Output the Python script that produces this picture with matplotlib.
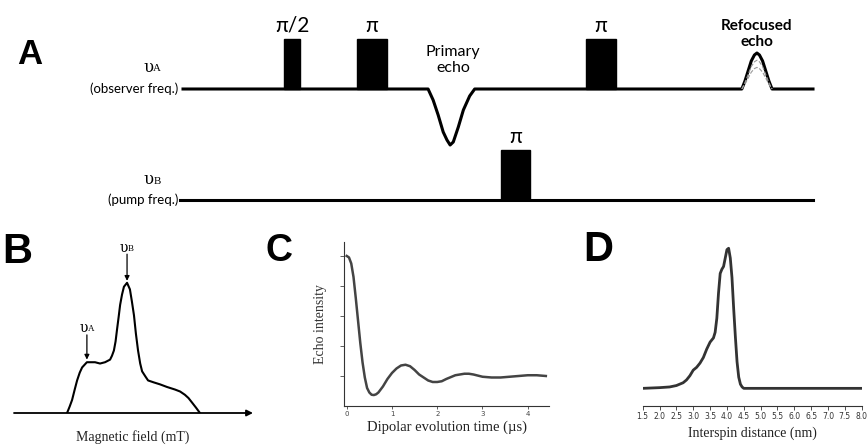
import numpy as np
import matplotlib.pyplot as plt
from matplotlib.patches import Rectangle

W, H = 868, 446
SANS = ['Lato', 'DejaVu Sans']
SERIF = ['Liberation Serif', 'DejaVu Serif']

# A: DEER pulse sequence (time in arbitrary units along the observer line)
obs_pulse_start = [16.0, 27.6, 64.0]
obs_pulse_width = [2.6, 4.8, 4.7]
obs_pulse_label = ['π/2', 'π', 'π']
pump_pulse_start = [50.5]
pump_pulse_width = [4.6]
pump_pulse_label = ['π']
pulse_height = 50
line_end = 100
pump_level = -111

primary_echo_t = [38.9, 39.7, 40.5, 41.3, 41.9, 42.4, 42.9, 43.7, 44.5, 45.5, 46.3]
primary_echo_y = [0, -11, -26, -43, -51, -56, -53, -38, -21, -7, 0]
refocused_t = [88.7, 89.2, 89.7, 90.2, 90.7, 91.1, 91.5, 92.0, 92.5, 93.0, 93.5]
refocused_y = [0, 8, 18, 28, 34, 36, 34, 28, 18, 8, 0]
refocused_faint = [0.8, 0.6]

# B: field-swept spectrum
field = [22.2, 23.3, 24.3, 25.4, 26.4, 27.5, 28.5, 30.5, 33.9, 36.0, 38.1, 40.2,
         41.0, 41.8, 42.5, 43.1, 43.8, 44.4, 45.2, 46.0, 47.3, 48.5, 49.3, 50.2,
         51.0, 51.9, 52.8, 53.6, 55.0, 56.1, 58.5, 61.1, 64.0, 67.4, 69.5, 71.5,
         73.0, 74.5, 76.2, 77.8]
spectrum = [0.0, 0.05, 0.10, 0.18, 0.25, 0.31, 0.35, 0.39, 0.39, 0.38, 0.39, 0.41,
            0.44, 0.48, 0.55, 0.64, 0.74, 0.83, 0.91, 0.97, 1.0, 0.95, 0.86, 0.75,
            0.61, 0.48, 0.38, 0.32, 0.28, 0.25, 0.235, 0.22, 0.20, 0.18, 0.165, 0.14,
            0.115, 0.08, 0.04, 0.0]

# C: DEER time trace
dip_time = [0, 0.05, 0.1, 0.15, 0.2, 0.25, 0.3, 0.35, 0.4, 0.45, 0.5, 0.55, 0.6,
            0.65, 0.7, 0.8, 0.9, 1.0, 1.1, 1.2, 1.3, 1.4, 1.5, 1.6, 1.7, 1.8, 1.9,
            2.0, 2.1, 2.2, 2.4, 2.6, 2.7, 2.8, 3.0, 3.2, 3.4, 3.6, 3.8, 4.0, 4.2, 4.4]
echo = [1.0, 0.99, 0.95, 0.86, 0.72, 0.57, 0.42, 0.29, 0.19, 0.12, 0.09, 0.075,
        0.073, 0.078, 0.09, 0.13, 0.18, 0.22, 0.25, 0.27, 0.275, 0.265, 0.24, 0.21,
        0.19, 0.17, 0.16, 0.16, 0.165, 0.18, 0.205, 0.215, 0.215, 0.21, 0.195, 0.19,
        0.19, 0.195, 0.2, 0.205, 0.205, 0.2]

# D: distance distribution
distance = [1.5, 2.0, 2.3, 2.5, 2.7, 2.8, 2.9, 3.0, 3.1, 3.2, 3.3, 3.4, 3.5, 3.6,
            3.65, 3.7, 3.75, 3.8, 3.85, 3.9, 3.95, 4.0, 4.05, 4.1, 4.15, 4.2, 4.25,
            4.3, 4.35, 4.4, 4.45, 4.5, 5.0, 8.0]
prob = [0, 0.005, 0.01, 0.02, 0.04, 0.06, 0.09, 0.13, 0.15, 0.18, 0.22, 0.28, 0.33,
        0.36, 0.40, 0.50, 0.68, 0.82, 0.85, 0.87, 0.93, 0.99, 1.0, 0.93, 0.79, 0.57,
        0.37, 0.19, 0.08, 0.03, 0.01, 0, 0, 0]
dist_ticks = [1.5, 2.0, 2.5, 3.0, 3.5, 4.0, 4.5, 5.0, 5.5, 6.0, 6.5, 7.0, 7.5, 8.0]


def rect(x0, y0, x1, y1):
    # pixel box (top-left origin) -> figure fraction
    return [x0 / W, 1 - y1 / H, (x1 - x0) / W, (y1 - y0) / H]


def upsilon(ax, x, y, letter, size):
    ax.annotate('υ', (x, y), xytext=(-size * 0.22, 0), textcoords='offset points',
                ha='center', va='center', fontsize=size, family='DejaVu Serif',
                annotation_clip=False)
    ax.annotate(letter, (x, y), xytext=(size * 0.3, -size * 0.08), textcoords='offset points',
                ha='center', va='center', fontsize=size * 0.65, family=SERIF,
                annotation_clip=False)


fig = plt.figure(figsize=(W / 100, H / 100), dpi=100)

# ---- panel A ----
axA = fig.add_axes(rect(0, 0, W, 220))
axA.set_xlim(-29.05, 108.73)
axA.set_ylim(-131, 89)
axA.axis('off')

obs_t = [0] + primary_echo_t + refocused_t + [line_end]
obs_y = [0] + primary_echo_y + refocused_y + [0]
axA.plot(obs_t, obs_y, color='black', lw=2.2, solid_joinstyle='round')
for f in refocused_faint:
    axA.plot(refocused_t, [v * f for v in refocused_y], color='#999999', lw=0.8, ls='--')
axA.plot([-0.5, line_end], [pump_level, pump_level], color='black', lw=2.2)

for s, w, lab in zip(obs_pulse_start, obs_pulse_width, obs_pulse_label):
    axA.add_patch(Rectangle((s, 0), w, pulse_height, color='black'))
    axA.text(s + w / 2, pulse_height + 13, lab, ha='center', va='center',
             fontsize=15, family=SANS)
for s, w, lab in zip(pump_pulse_start, pump_pulse_width, pump_pulse_label):
    axA.add_patch(Rectangle((s, pump_level), w, pulse_height, color='black'))
    axA.text(s + w / 2, pump_level + pulse_height + 13, lab, ha='center', va='center',
             fontsize=15, family=SANS)

axA.text(42.9, 29, 'Primary\necho', ha='center', va='center', fontsize=11.5,
         family=SANS, linespacing=1.25)
axA.text(91.1, 55, 'Refocused\necho', ha='center', va='center', fontsize=11,
         family=SANS, fontweight='bold', linespacing=1.25)
axA.text(-0.8, 0, '(observer freq.)', ha='right', va='center', fontsize=9.5, family=SANS)
axA.text(-0.8, pump_level, '(pump freq.)', ha='right', va='center', fontsize=9.5, family=SANS)
upsilon(axA, -4.9, 22, 'A', 12)
upsilon(axA, -4.9, pump_level + 20, 'B', 12)

# ---- panel B ----
axB = fig.add_axes(rect(14, 275, 253, 413))
axB.set_xlim(0, 100)
axB.set_ylim(0, 1.06)
axB.axis('off')
axB.plot(field, spectrum, color='black', lw=1.5)
axB.annotate('', xy=(100, 0), xytext=(0, 0), annotation_clip=False,
             arrowprops=dict(arrowstyle='-|>', color='black', lw=1.3, mutation_scale=9,
                             shrinkA=0, shrinkB=0))
axB.annotate('', xy=(47.3, 1.015), xytext=(47.3, 1.22), annotation_clip=False,
             arrowprops=dict(arrowstyle='-|>', color='black', lw=0.9, mutation_scale=7,
                             shrinkA=0, shrinkB=0))
axB.annotate('', xy=(30.5, 0.41), xytext=(30.5, 0.60), annotation_clip=False,
             arrowprops=dict(arrowstyle='-|>', color='black', lw=0.9, mutation_scale=7,
                             shrinkA=0, shrinkB=0))
upsilon(axB, 47.3, 1.27, 'B', 10)
upsilon(axB, 30.5, 0.65, 'A', 10)

# ---- panel C ----
axC = fig.add_axes(rect(344, 242, 549, 406))
axC.set_xlim(-0.06, 4.47)
axC.set_ylim(0, 1.093)
axC.plot(dip_time, echo, color='#444444', lw=1.8)
for side in ['top', 'right']:
    axC.spines[side].set_visible(False)
for side in ['left', 'bottom']:
    axC.spines[side].set_color('#333333')
    axC.spines[side].set_linewidth(0.8)
axC.set_xticks([0, 1, 2, 3, 4])
axC.set_yticks([0.2, 0.4, 0.6, 0.8, 1.0])
axC.set_yticklabels([])
axC.tick_params(axis='x', labelsize=5, colors='#444444', length=2.5, width=0.6, pad=1)
axC.tick_params(axis='y', length=3, width=0.6, colors='#444444')
axC.set_ylabel('Echo intensity', family=SERIF, fontsize=10, color='#333333', labelpad=6)

# ---- panel D ----
axD = fig.add_axes(rect(642.7, 240, 861.7, 406))
axD.set_xlim(1.5, 8.0)
axD.set_ylim(-0.126, 1.059)
axD.plot(distance, prob, color='#333333', lw=2)
for side in ['top', 'right', 'left']:
    axD.spines[side].set_visible(False)
axD.spines['bottom'].set_linewidth(0.8)
axD.spines['bottom'].set_color('#333333')
axD.set_yticks([])
axD.set_xticks(dist_ticks)
axD.set_xticklabels(['%.1f' % v for v in dist_ticks])
axD.tick_params(axis='x', labelsize=5.5, colors='#333333', length=3, width=0.6, pad=1.5)

# axis titles and panel letters
fig.text(133 / W, 1 - 437 / H, 'Magnetic field (mT)', ha='center', va='center',
         family=SERIF, fontsize=10, color='#222222')
fig.text(447 / W, 1 - 427 / H, 'Dipolar evolution time (µs)', ha='center', va='center',
         family=SERIF, fontsize=10.5, color='#222222')
fig.text(752 / W, 1 - 433 / H, 'Interspin distance (nm)', ha='center', va='center',
         family=SERIF, fontsize=10, color='#222222')

letter_kw = dict(ha='center', va='center', family=['Liberation Sans', 'DejaVu Sans'],
                 fontweight='bold')
fig.text(30 / W, 1 - 55 / H, 'A', fontsize=25, **letter_kw)
fig.text(17 / W, 1 - 252 / H, 'B', fontsize=30, **letter_kw)
fig.text(279 / W, 1 - 251 / H, 'C', fontsize=27, **letter_kw)
fig.text(598 / W, 1 - 250 / H, 'D', fontsize=30, **letter_kw)

fig.savefig('out.png', dpi=100)
